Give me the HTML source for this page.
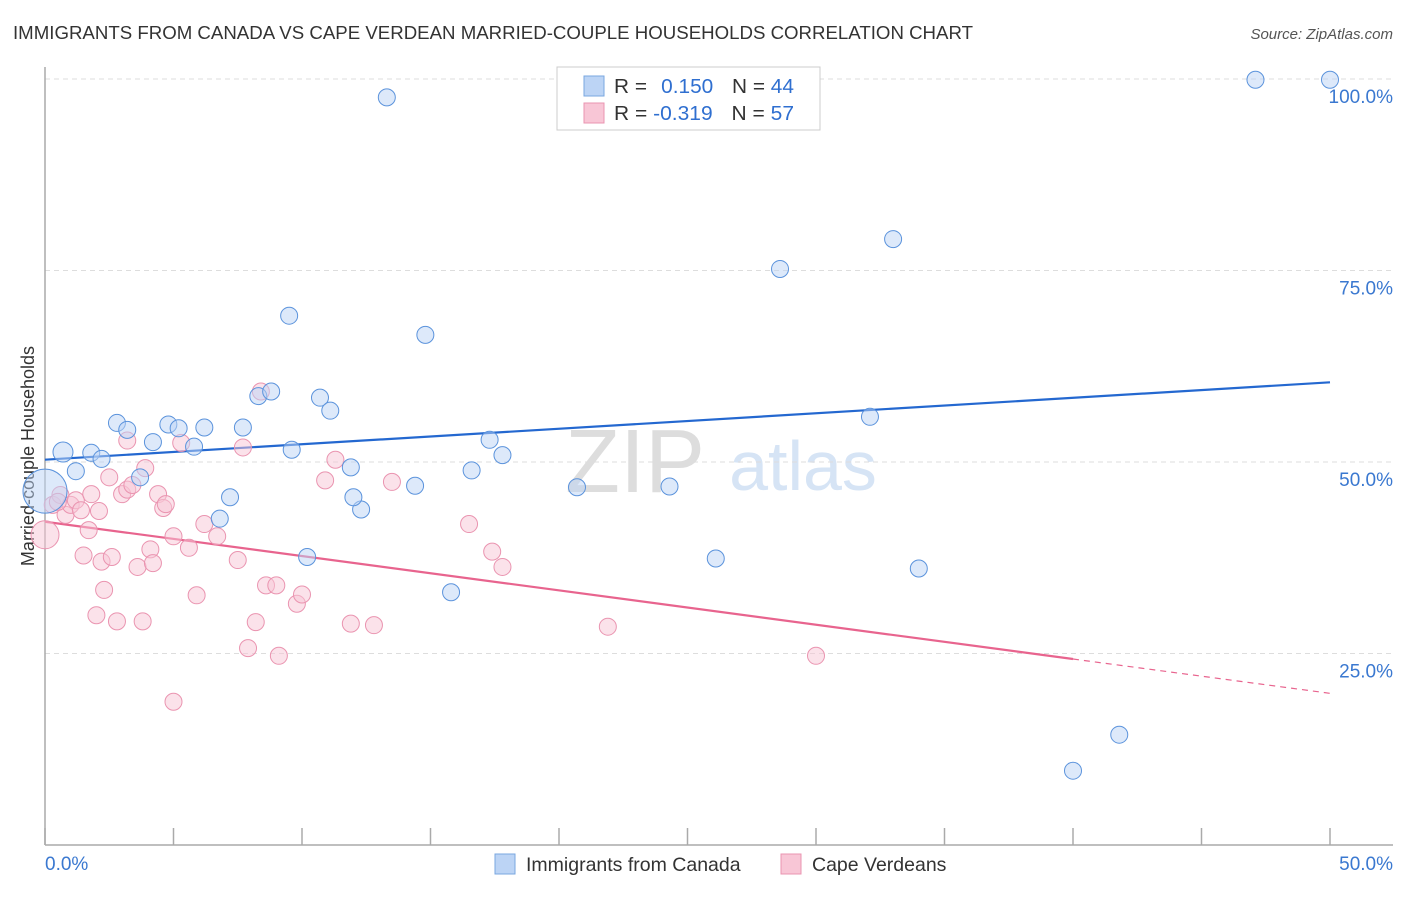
<!DOCTYPE html>
<html><head><meta charset="utf-8"><style>
body{margin:0;background:#fff;font-family:"Liberation Sans",sans-serif;}
svg text{font-family:"Liberation Sans",sans-serif;}
</style></head><body>
<svg id="chart" width="1406" height="892">
<text x="13" y="39" font-size="18.5" fill="#333" textLength="960" lengthAdjust="spacingAndGlyphs">IMMIGRANTS FROM CANADA VS CAPE VERDEAN MARRIED-COUPLE HOUSEHOLDS CORRELATION CHART</text>
<text x="1393" y="39" font-size="15" fill="#555" text-anchor="end" font-style="italic">Source: ZipAtlas.com</text>
<text x="34" y="456" font-size="18" fill="#333" text-anchor="middle" transform="rotate(-90 34 456)">Married-couple Households</text>
<text x="635" y="492" font-size="90" fill="#ddd" font-family="Liberation Serif" text-anchor="middle">ZIP</text>
<text x="803" y="490" font-size="70" fill="#d6e4f5" text-anchor="middle">atlas</text>
<g id="grid"></g><g id="axes"></g><g id="trend"></g><g id="pts"></g>
<g>
<rect x="557" y="67" width="263" height="63" fill="#fff" stroke="#ccc"/>
<rect x="584" y="76" width="20" height="20" fill="#bcd4f5" stroke="#7aa7e0"/>
<rect x="584" y="103" width="20" height="20" fill="#f8c6d6" stroke="#ea94b0"/>
<text x="614" y="93" font-size="20" fill="#333" textLength="180" lengthAdjust="spacingAndGlyphs">R = <tspan fill="#2f6fd0" dx="8">0.150</tspan><tspan fill="#333" dx="18">N = </tspan><tspan fill="#2f6fd0">44</tspan></text>
<text x="614" y="120" font-size="20" fill="#333" textLength="180" lengthAdjust="spacingAndGlyphs">R = <tspan fill="#2f6fd0">-0.319</tspan><tspan fill="#333" dx="18">N = </tspan><tspan fill="#2f6fd0">57</tspan></text>
</g>
<g>
<rect x="495" y="854" width="20" height="20" fill="#bcd4f5" stroke="#7aa7e0"/>
<text x="526" y="871" font-size="19.5" fill="#333">Immigrants from Canada</text>
<rect x="781" y="854" width="20" height="20" fill="#f8c6d6" stroke="#ea94b0"/>
<text x="812" y="871" font-size="19.5" fill="#333">Cape Verdeans</text>
</g>
</svg>
<script>
const yTicks=[25,50,75,100];
const yTickLabels=["25.0%","50.0%","75.0%","100.0%"];
const xTicks=[0,5,10,15,20,25,30,35,40,45,50];
const blueX=[0.7,1.8,1.2,2.2,2.8,3.2,3.7,4.2,4.8,5.2,5.8,6.2,7.2,6.8,7.7,8.3,8.8,9.5,9.6,10.2,10.7,11.1,11.9,12.3,12.0,13.3,14.4,14.8,15.8,16.6,17.3,17.8,20.7,24.3,26.1,28.6,32.1,33.0,34.0,40.0,41.8,47.1,50.0,0.0];
const blueY=[51.3,51.2,48.8,50.4,55.1,54.2,48.0,52.6,54.9,54.4,52.0,54.5,45.4,42.6,54.5,58.6,59.2,69.1,51.6,37.6,58.4,56.7,49.3,43.8,45.4,97.6,46.9,66.6,33.0,48.9,52.9,50.9,46.7,46.8,37.4,75.2,55.9,79.1,36.1,9.7,14.4,99.9,99.9,46.2];
const blueR=[10,8.5,8.5,8.5,8.5,8.5,8.5,8.5,8.5,8.5,8.5,8.5,8.5,8.5,8.5,8.5,8.5,8.5,8.5,8.5,8.5,8.5,8.5,8.5,8.5,8.5,8.5,8.5,8.5,8.5,8.5,8.5,8.5,8.5,8.5,8.5,8.5,8.5,8.5,8.5,8.5,8.5,8.5,22];
const pinkX=[0.0,0.3,0.6,0.8,1.0,1.2,1.4,1.5,1.7,2.0,2.1,2.2,2.3,2.5,2.6,2.8,3.0,3.2,3.2,3.6,3.8,3.9,4.1,4.2,4.4,4.6,4.7,5.0,5.0,5.3,5.6,5.9,6.2,6.7,7.5,7.7,7.9,8.2,8.4,8.6,9.0,9.1,9.8,10.0,10.9,11.3,11.9,12.8,13.5,16.5,17.4,17.8,21.9,30.0,0.5,1.8,3.4];
const pinkY=[40.5,44.4,45.7,43.1,44.4,45.0,43.7,37.8,41.1,30.0,43.6,37.0,33.3,48.0,37.6,29.2,45.8,52.8,46.4,36.3,29.2,49.2,38.6,36.8,45.8,44.0,44.5,40.3,18.7,52.5,38.8,32.6,41.9,40.3,37.2,51.9,25.7,29.1,59.2,33.9,33.9,24.7,31.5,32.7,47.6,50.3,28.9,28.7,47.4,41.9,38.3,36.3,28.5,24.7,44.8,45.8,47.0];
const pinkR=pinkX.map((v,i)=>i===0?14:8.5);
const blueLine=[50.3,60.4];
const pinkLine=[42.2,19.8];
const pinkSolidEnd=40;
const NS="http://www.w3.org/2000/svg";
const X0=45,X1=1330,YB=845,YT=79;
const sx=v=>X0+(v/50)*(X1-X0);
const sy=v=>YB-(v/100)*(YB-YT);
function mk(t,a,p){const e=document.createElementNS(NS,t);for(const k in a)e.setAttribute(k,a[k]);p.appendChild(e);return e;}
const grid=document.getElementById('grid'),axes=document.getElementById('axes'),trend=document.getElementById('trend'),pts=document.getElementById('pts');
yTicks.forEach((t,i)=>{
  const l=mk('line',{x1:X0,x2:1393,y1:sy(t),y2:sy(t),stroke:'#ddd','stroke-dasharray':'5,4'},grid);
  
  
  const tx=mk('text',{x:1393,y:sy(t)+24,'font-size':19,fill:'#3a78d0','text-anchor':'end'},axes);
  tx.textContent=yTickLabels[i];
  
  
});
const ax=mk('line',{x1:X0,x2:X0,y1:67,y2:YB,stroke:'#aaa','stroke-width':1.5},axes);


const bx=mk('line',{x1:X0,x2:1393,y1:YB,y2:YB,stroke:'#aaa','stroke-width':1.5},axes);


xTicks.forEach(t=>{
  const l=mk('line',{x1:sx(t),x2:sx(t),y1:YB,y2:828,stroke:'#aaa','stroke-width':1.5},axes);
  
  
});
const xl0=mk('text',{x:45,y:870,'font-size':19,fill:'#3a78d0'},axes);xl0.textContent='0.0%';


const xl1=mk('text',{x:1393,y:870,'font-size':19,fill:'#3a78d0','text-anchor':'end'},axes);xl1.textContent='50.0%';


function drawPts(xs,ys,rs,fill,stroke,name){
  xs.forEach((v,i)=>{
    const c=mk('circle',{cx:sx(v),cy:sy(ys[i]),r:rs[i],fill:fill,stroke:stroke,'stroke-width':1,'fill-opacity':0.5},pts);
    
    
  });
}
drawPts(pinkX,pinkY,pinkR,'#f8c6d6','#ea94b0','cape-verdean-point');
drawPts(blueX,blueY,blueR,'#bcd4f5','#5b93dc','canada-point');
const bl=mk('line',{x1:sx(0),y1:sy(blueLine[0]),x2:sx(50),y2:sy(blueLine[1]),stroke:'#2468d0','stroke-width':2.2},trend);


const pAt=x=>pinkLine[0]+(pinkLine[1]-pinkLine[0])*x/50;
const pl=mk('line',{x1:sx(0),y1:sy(pAt(0)),x2:sx(pinkSolidEnd),y2:sy(pAt(pinkSolidEnd)),stroke:'#e8648e','stroke-width':2.2},trend);


const pd=mk('line',{x1:sx(pinkSolidEnd),y1:sy(pAt(pinkSolidEnd)),x2:sx(50),y2:sy(pAt(50)),stroke:'#e8648e','stroke-width':1.2,'stroke-dasharray':'6,5'},trend);


</script>
</body></html>
